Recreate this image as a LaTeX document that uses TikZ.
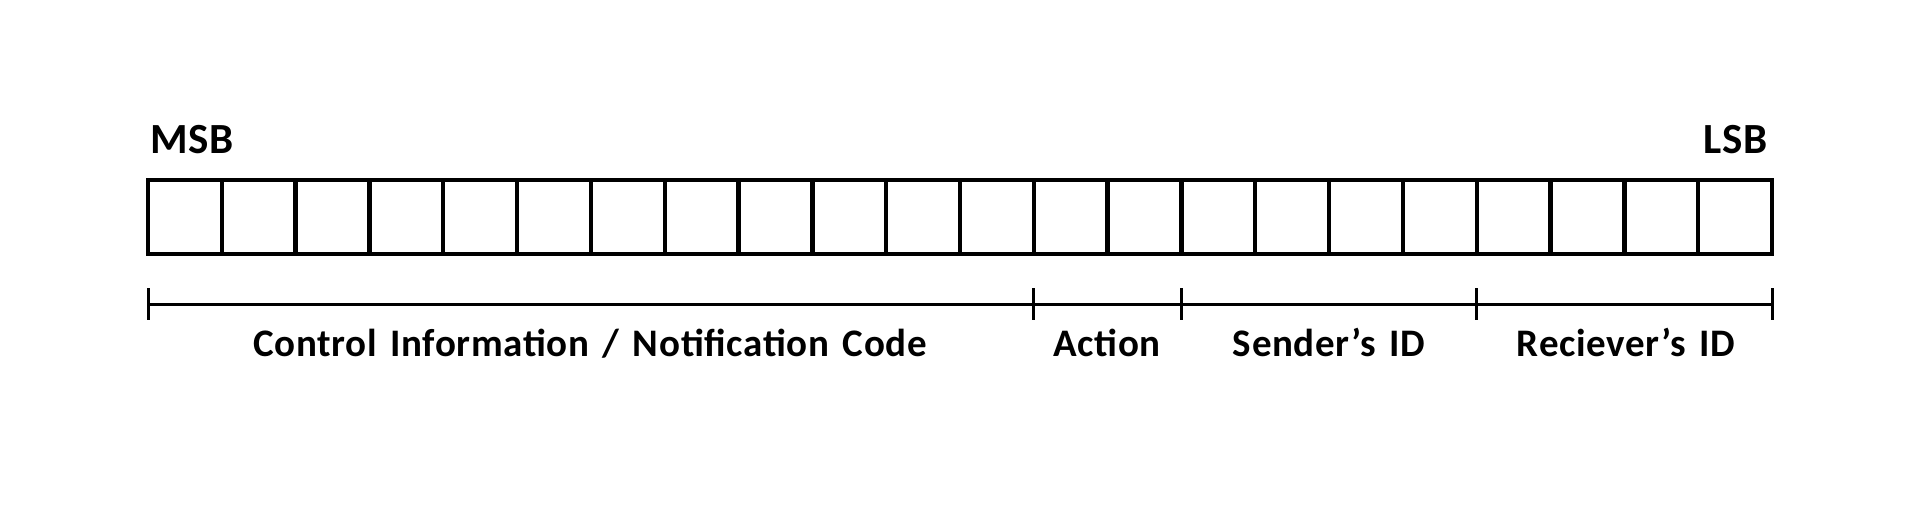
\documentclass[tikz,border=0pt]{standalone}
\usepackage{fontspec}
\setmainfont{Carlito}[WordSpace=1.4,LetterSpace=1.8]
\begin{document}
\begin{tikzpicture}[x=0.5pt,y=-0.5pt,
  cell/.style={draw=black,line width=2.15pt,minimum width=36.9pt,minimum height=37pt,inner sep=0pt,outer sep=0pt},
  brk/.style={draw=black,line width=1.5pt},
  lbl/.style={font=\fontsize{19.5}{22}\selectfont\bfseries,inner sep=0pt,anchor=base},
  endlbl/.style={font=\fontsize{21.5}{24}\selectfont\bfseries,inner sep=0pt}]
\useasboundingbox (0,0) rectangle (1920,531);
\foreach \i in {0,...,21}{
  \node[cell] (c\i) at ({148+73.818*(\i+0.5)},217) {};
}
\node[endlbl,anchor=base west] (msb) at (150,153) {MSB};
\node[endlbl,anchor=base east] (lsb) at (1768,153) {LSB};
\foreach \n/\x in {0/148,12/1033.8,14/1181.5,18/1476.7,22/1772}{
  \coordinate (t\n) at (\x,304);
  \coordinate (u\n) at (\x,288);
  \coordinate (d\n) at (\x,320);
  \draw[brk] (u\n) -- (d\n);
}
\draw[brk] (t0) -- (t22);
\node[lbl] (l1) at (590,356) {Control Information / Notification Code};
\node[lbl] (l2) at (1107,356) {Action};
\node[lbl] (l3) at (1329,356) {Sender’s ID};
\node[lbl] (l4) at (1626,356) {Reciever’s ID};
\end{tikzpicture}
\end{document}
